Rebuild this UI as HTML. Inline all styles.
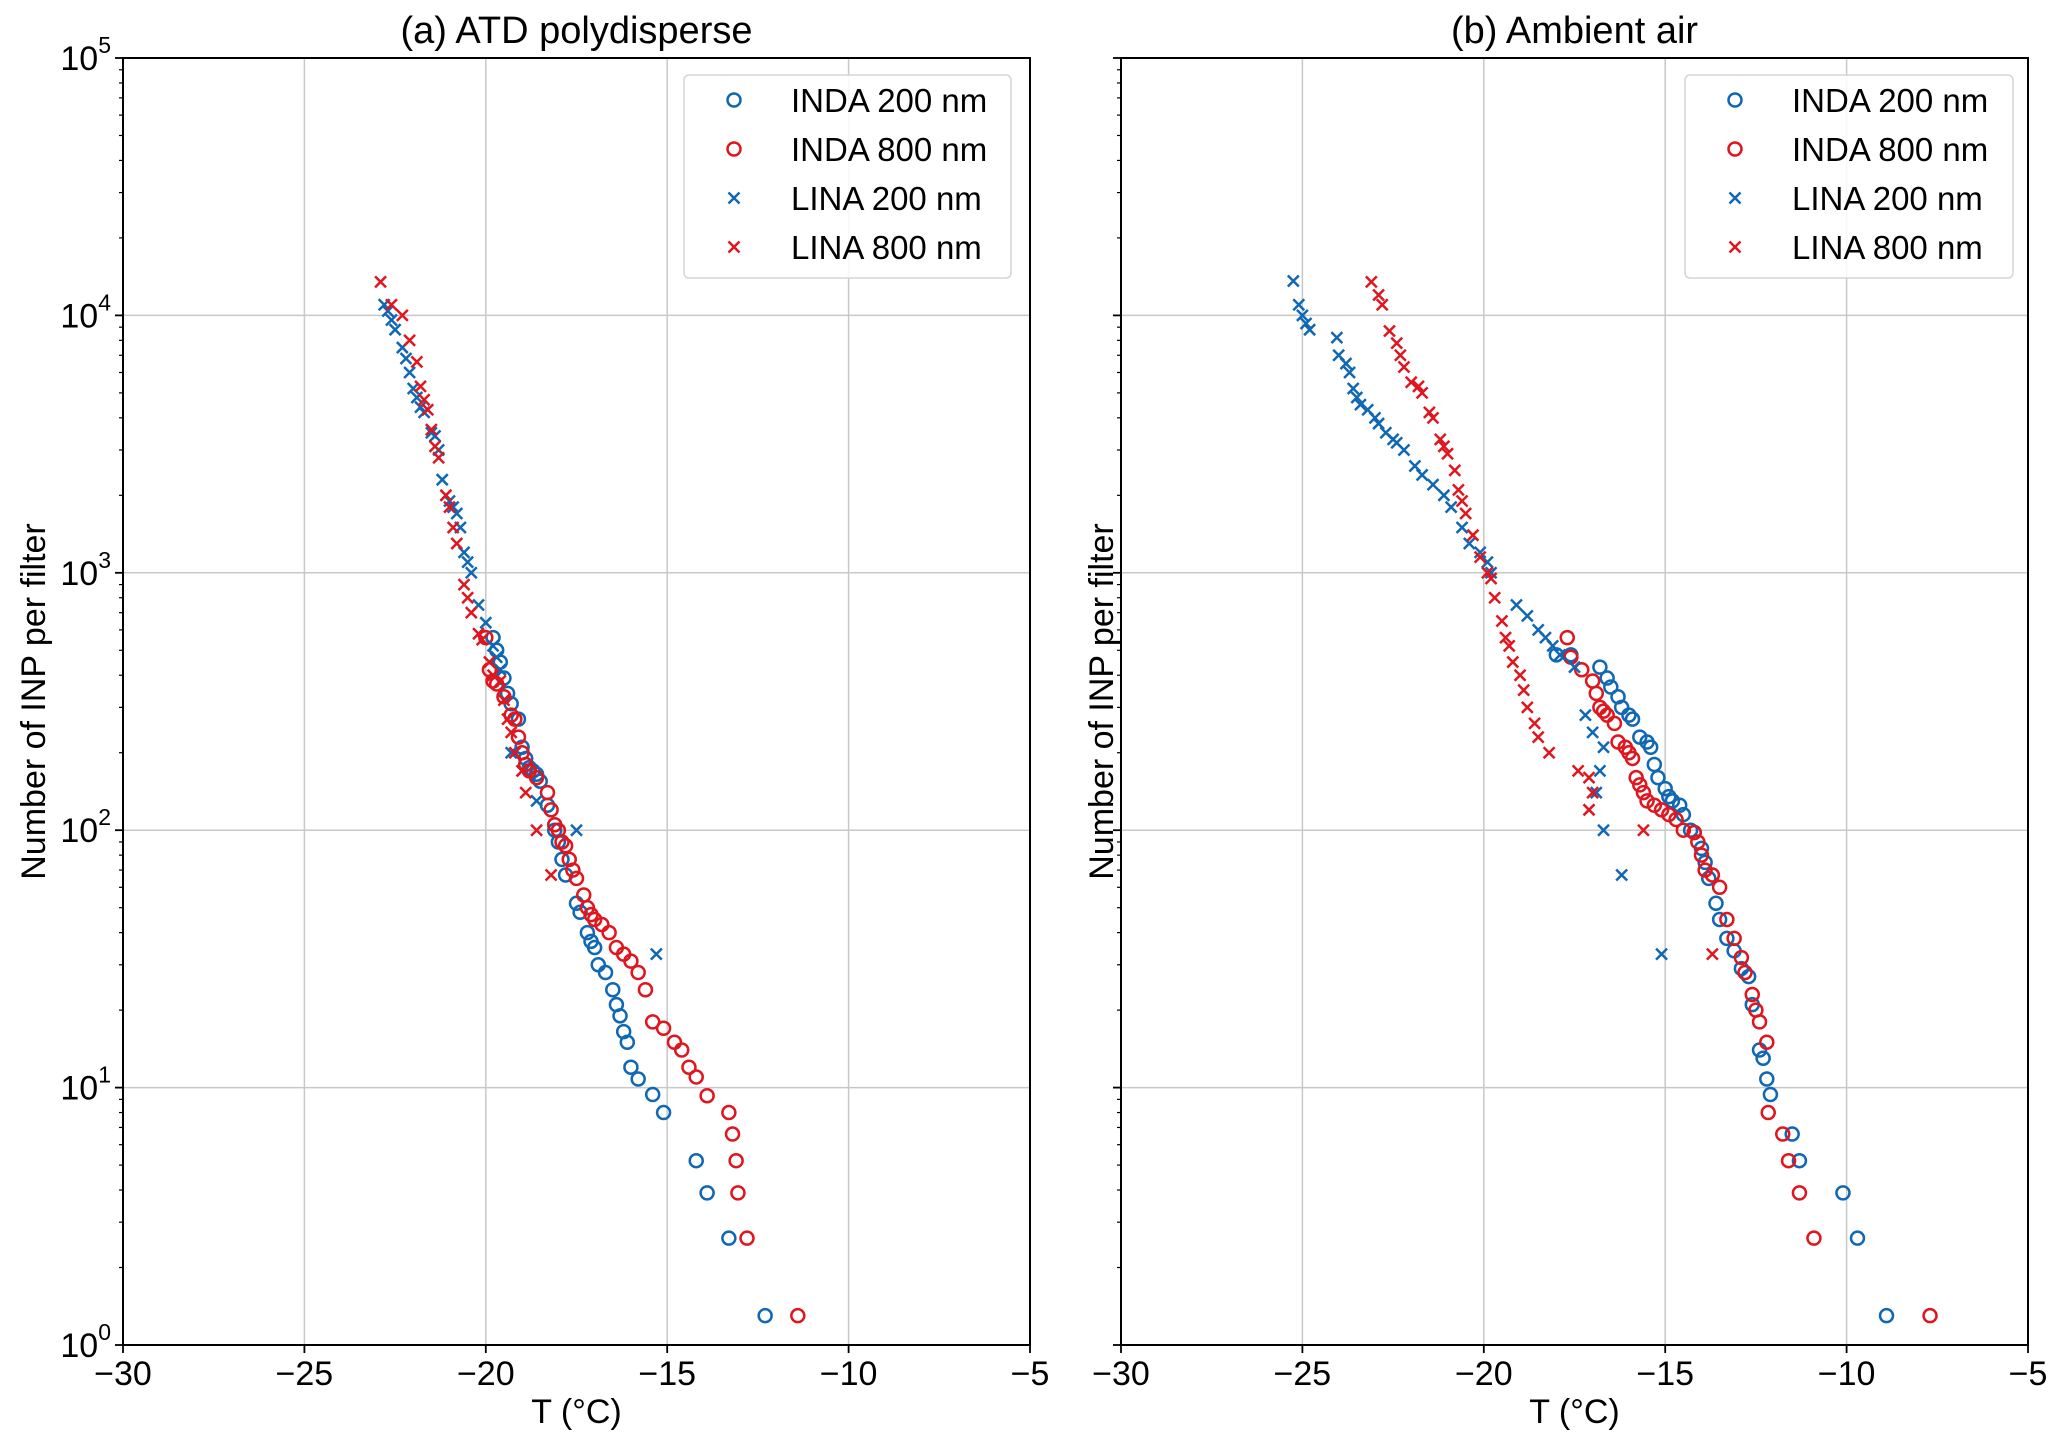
<!DOCTYPE html>
<html><head><meta charset="utf-8"><style>
html,body{margin:0;padding:0;background:#fff}
svg{display:block;font-family:"Liberation Sans",Arial,sans-serif}
</style></head><body>
<svg id="chart" width="2067" height="1446" viewBox="0 0 2067 1446"></svg>
<script>
// ---- data (T in °C, N = INP per filter) ----
const a_inda200_T=[-19.8,-19.7,-19.6,-19.5,-19.4,-19.3,-19.1,-19.0,-18.9,-18.8,-18.7,-18.6,-18.5,-18.3,-18.1,-18.0,-17.9,-17.8,-17.5,-17.4,-17.2,-17.1,-17.0,-16.9,-16.7,-16.5,-16.4,-16.3,-16.2,-16.1,-16.0,-15.8,-15.4,-15.1,-14.2,-13.9,-13.3,-12.3];
const a_inda200_N=[560,500,450,390,340,310,270,210,190,175,170,165,155,125,100,90,77,67,52,48,40,37,35,30,28,24,21,19,16.5,15,12,10.8,9.4,8,5.2,3.9,2.6,1.3];
const a_inda800_T=[-20.0,-19.9,-19.8,-19.7,-19.5,-19.3,-19.2,-19.1,-19.0,-18.9,-18.8,-18.6,-18.3,-18.2,-18.1,-18.0,-17.9,-17.8,-17.7,-17.6,-17.5,-17.3,-17.2,-17.1,-17.0,-16.8,-16.6,-16.4,-16.2,-16.0,-15.8,-15.6,-15.4,-15.1,-14.8,-14.6,-14.4,-14.2,-13.9,-13.3,-13.2,-13.1,-13.05,-12.8,-11.4];
const a_inda800_N=[560,420,380,370,330,280,270,230,200,180,170,160,140,120,105,100,90,87,77,70,65,56,50,47,45,43,40,35,33,31,28,24,18,17,15,14,12,11,9.3,8,6.6,5.2,3.9,2.6,1.3];
const a_lina200_T=[-22.8,-22.7,-22.6,-22.5,-22.3,-22.2,-22.1,-22.0,-21.9,-21.8,-21.7,-21.5,-21.4,-21.3,-21.2,-21.0,-20.9,-20.8,-20.7,-20.6,-20.5,-20.4,-20.2,-20.0,-19.8,-19.7,-19.6,-19.3,-19.0,-18.6,-17.5,-15.3];
const a_lina200_N=[11000,10400,9600,8800,7500,6800,6000,5200,4800,4400,4200,3500,3400,3000,2300,1900,1800,1700,1500,1200,1100,1000,750,640,520,470,420,200,170,130,100,33];
const a_lina800_T=[-22.9,-22.6,-22.3,-22.1,-21.9,-21.8,-21.7,-21.6,-21.5,-21.4,-21.3,-21.1,-21.0,-20.9,-20.8,-20.6,-20.5,-20.4,-20.2,-20.1,-19.9,-19.8,-19.6,-19.5,-19.4,-19.3,-19.2,-19.0,-18.9,-18.6,-18.2];
const a_lina800_N=[13500,11000,10000,8000,6600,5300,4700,4300,3600,3100,2800,2000,1800,1500,1300,900,800,700,580,550,450,400,380,320,270,240,200,170,140,100,67];

const b_inda200_T=[-18.0,-17.6,-16.8,-16.6,-16.5,-16.3,-16.2,-16.0,-15.9,-15.7,-15.5,-15.4,-15.3,-15.2,-15.0,-14.9,-14.8,-14.6,-14.5,-14.3,-14.2,-14.0,-13.9,-13.8,-13.6,-13.5,-13.3,-13.1,-12.9,-12.7,-12.6,-12.4,-12.3,-12.2,-12.1,-11.5,-11.3,-10.1,-9.7,-8.9];
const b_inda200_N=[480,480,430,390,360,330,300,280,270,230,220,210,180,160,145,135,130,125,115,100,98,85,75,65,52,45,38,34,29,27,21,14,13,10.8,9.4,6.6,5.2,3.9,2.6,1.3];
const b_inda800_T=[-17.7,-17.6,-17.3,-17.0,-16.9,-16.8,-16.7,-16.6,-16.4,-16.3,-16.1,-16.0,-15.9,-15.8,-15.7,-15.6,-15.5,-15.3,-15.1,-14.9,-14.7,-14.5,-14.2,-14.1,-14.0,-13.9,-13.7,-13.5,-13.3,-13.1,-12.9,-12.8,-12.6,-12.5,-12.4,-12.2,-12.16,-11.76,-11.6,-11.3,-10.9,-7.7];
const b_inda800_N=[560,470,420,380,340,300,290,280,260,220,210,200,190,160,150,140,130,125,120,115,110,100,98,90,80,70,67,60,45,38,32,28,23,20,18,15,8,6.6,5.2,3.9,2.6,1.3];
const b_lina200_T=[-25.25,-25.1,-25.0,-24.9,-24.8,-24.05,-24.0,-23.8,-23.7,-23.6,-23.5,-23.4,-23.2,-23.0,-22.9,-22.7,-22.5,-22.4,-22.2,-21.9,-21.7,-21.4,-21.1,-20.9,-20.6,-20.4,-20.1,-19.9,-19.8,-19.1,-18.8,-18.5,-18.3,-18.1,-17.9,-17.5,-17.2,-17.0,-16.7,-16.8,-16.9,-16.7,-16.2,-15.1];
const b_lina200_N=[13600,11000,10000,9300,8800,8200,7000,6500,6000,5200,4800,4500,4300,4000,3800,3500,3300,3200,3000,2600,2400,2200,2000,1800,1500,1300,1200,1100,1000,750,680,600,560,520,480,430,280,240,210,170,140,100,67,33];
const b_lina800_T=[-23.1,-22.9,-22.8,-22.6,-22.4,-22.3,-22.2,-22.0,-21.8,-21.7,-21.5,-21.4,-21.2,-21.1,-21.0,-20.8,-20.7,-20.6,-20.5,-20.3,-20.1,-19.9,-19.8,-19.7,-19.5,-19.4,-19.3,-19.2,-19.0,-18.9,-18.8,-18.6,-18.5,-18.2,-17.4,-17.1,-17.0,-17.1,-15.6,-13.7];
const b_lina800_N=[13500,12000,11000,8700,7800,7000,6300,5500,5300,5000,4200,4000,3300,3100,2900,2500,2100,1900,1700,1400,1150,1000,950,800,650,560,520,450,400,350,300,260,230,200,170,160,140,120,100,33];

const xTicks=[-30,-25,-20,-15,-10,-5];
const yDecades=[0,1,2,3,4,5];
const legendLabels=["INDA 200 nm","INDA 800 nm","LINA 200 nm","LINA 800 nm"];

const BLUE="#1068b4", RED="#e0161f";
const NS="http://www.w3.org/2000/svg";
const svg=document.getElementById('chart');
function mk(tag,attrs,parent){const e=document.createElementNS(NS,tag);for(const k in attrs)e.setAttribute(k,attrs[k]);(parent||svg).appendChild(e);return e;}

const TOP=58, BOT=1345;
const panels=[
 {x0:123,x1:1030,title:"(a) ATD polydisperse",ylab:true,ylx:33,leg:[684,1011],
  series:[[a_inda200_T,a_inda200_N,'o',BLUE],[a_inda800_T,a_inda800_N,'o',RED],[a_lina200_T,a_lina200_N,'x',BLUE],[a_lina800_T,a_lina800_N,'x',RED]]},
 {x0:1121,x1:2028,title:"(b) Ambient air",ylab:false,ylx:1101,leg:[1685,2013],
  series:[[b_inda200_T,b_inda200_N,'o',BLUE],[b_inda800_T,b_inda800_N,'o',RED],[b_lina200_T,b_lina200_N,'x',BLUE],[b_lina800_T,b_lina800_N,'x',RED]]}
];

function drawMarker(g,type,color,x,y){
  if(type==='o'){
    const c=mk('circle',{cx:x,cy:y,r:6.5,fill:'none',stroke:color,'stroke-width':2.5},g);
    
    
  } else {
    const s=5.5;
    const p=mk('path',{d:`M${x-s},${y-s}L${x+s},${y+s}M${x-s},${y+s}L${x+s},${y-s}`,stroke:color,'stroke-width':2.5,fill:'none'},g);
    
    
  }
}

panels.forEach((P,pi)=>{
  const sx=t=>P.x0+(t+30)/25*(P.x1-P.x0);
  const sy=n=>BOT-Math.log10(n)/5*(BOT-TOP);
  const g=mk('g',{});
  
  
  xTicks.forEach(t=>{
    const l=mk('line',{x1:sx(t),x2:sx(t),y1:TOP,y2:BOT,stroke:'#c8c8c8','stroke-width':1.5},g);
    
    
  });
  yDecades.forEach(d=>{
    const y=sy(Math.pow(10,d));
    const l=mk('line',{x1:P.x0,x2:P.x1,y1:y,y2:y,stroke:'#c8c8c8','stroke-width':1.5},g);
    
    
  });
  xTicks.forEach(t=>{
    mk('line',{x1:sx(t),x2:sx(t),y1:BOT,y2:BOT+8,stroke:'#000','stroke-width':1.8},g);
    const tx=mk('text',{x:sx(t),y:BOT+40,'text-anchor':'middle','font-size':34},g);
    tx.textContent=(t<0?'\u2212':'')+Math.abs(t);
    
    
  });
  yDecades.forEach(d=>{
    const y=sy(Math.pow(10,d));
    mk('line',{x1:P.x0-8,x2:P.x0,y1:y,y2:y,stroke:'#000','stroke-width':1.8},g);
    if(d<5){for(let m=2;m<10;m++){const ym=sy(m*Math.pow(10,d));mk('line',{x1:P.x0-4,x2:P.x0,y1:ym,y2:ym,stroke:'#000','stroke-width':1.2},g);}}
    if(P.ylab){
      const tx=mk('text',{x:P.x0-12,y:y+12,'text-anchor':'end','font-size':34},g);
      tx.textContent='10';
      const sp=mk('tspan',{dy:-17,'font-size':23},tx);sp.textContent=String(d);
      
      
    }
  });
  P.series.forEach(([T,N,type,color])=>{
    const sg=mk('g',{},g);
    
    
    T.forEach((t,i)=>drawMarker(sg,type,color,sx(t),sy(N[i])));
  });
  const fr=mk('rect',{x:P.x0,y:TOP,width:P.x1-P.x0,height:BOT-TOP,fill:'none',stroke:'#000','stroke-width':2},g);
  
  
  const ti=mk('text',{x:(P.x0+P.x1)/2,y:43,'text-anchor':'middle','font-size':38},g);
  ti.textContent=P.title;
  
  
  const xl=mk('text',{x:(P.x0+P.x1)/2,y:1423,'text-anchor':'middle','font-size':34},g);
  xl.textContent='T (°C)';
  
  
  const yl=mk('text',{x:0,y:0,'text-anchor':'middle','font-size':34,transform:`translate(${P.ylx+12},${(TOP+BOT)/2}) rotate(-90)`},g);
  yl.textContent='Number of INP per filter';
  
  
  const lg=mk('g',{},g);
  
  
  mk('rect',{x:P.leg[0],y:75,width:P.leg[1]-P.leg[0],height:203,rx:5,fill:'#fff','fill-opacity':0.85,stroke:'#d5d5d5','stroke-width':1.5},lg);
  P.series.forEach(([T,N,type,color],i)=>{
    const y=100+i*49;
    drawMarker(lg,type,color,P.leg[0]+50,y);
    const lt=mk('text',{x:P.leg[0]+107,y:y+12,'font-size':33},lg);
    lt.textContent=legendLabels[i];
    
    
  });
});
</script>
</body></html>
